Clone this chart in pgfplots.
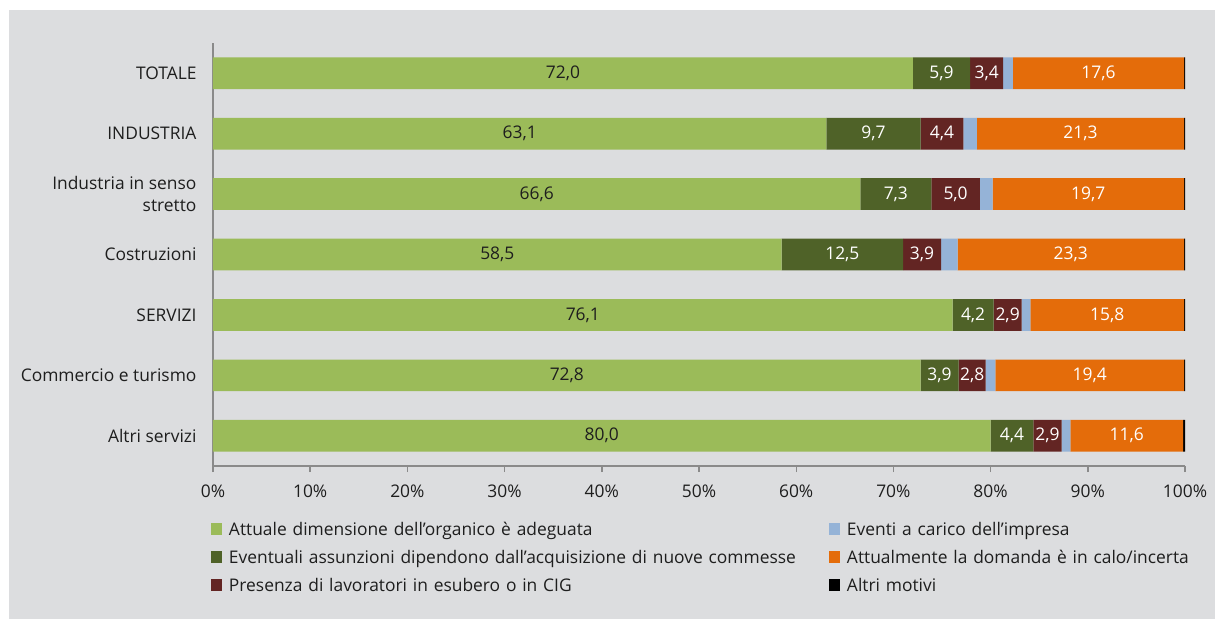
\documentclass[border=0pt]{standalone}
\usepackage{pgfplots}
\pgfplotsset{compat=1.18}
\usepackage{pgfplotstable}
\usepackage{fontspec}
\setmainfont{Open Sans}
\definecolor{bggray}{HTML}{DCDDDF}
\definecolor{axgray}{HTML}{8A8A8A}
\definecolor{c1}{HTML}{9BBB59}
\definecolor{c2}{HTML}{4F6228}
\definecolor{c3}{HTML}{632523}
\definecolor{c4}{HTML}{95B3D7}
\definecolor{c5}{HTML}{E46C0A}
\definecolor{c6}{HTML}{000000}
\definecolor{txt}{HTML}{1E1E1E}

% pos: 1 = TOTALE ... 7 = Altri servizi
\pgfplotstableread{
pos  adeg  comm  esub  even  calo  altri
1    72.0  5.9   3.4   1.0   17.6  0.1
2    63.1  9.7   4.4   1.4   21.3  0.1
3    66.6  7.3   5.0   1.3   19.7  0.1
4    58.5  12.5  3.9   1.7   23.3  0.1
5    76.1  4.2   2.9   0.9   15.8  0.1
6    72.8  3.9   2.8   1.0   19.4  0.1
7    80.0  4.4   2.9   0.9   11.6  0.2
}\datatab

\newcommand{\bigf}{\fontsize{17.4pt}{22.5pt}\selectfont}

\begin{document}
\begin{tikzpicture}
\useasboundingbox (-213pt,-153pt) rectangle (1002pt,466pt);
\fill[white] (-213pt,-153pt) rectangle (1002pt,466pt);
\fill[bggray] (-204pt,-153pt) rectangle (1002pt,456pt);
\begin{axis}[
    at={(0pt,0pt)}, anchor=south west,
    scale only axis,
    width=972pt, height=423pt,
    xbar stacked,
    bar width=31.7pt,
    xmin=0, xmax=100,
    ymin=0.5, ymax=7.5,
    y dir=reverse,
    axis x line*=bottom,
    axis y line*=left,
    axis line style={axgray, line width=1.4pt, -},
    xtick={0,10,...,100},
    xticklabels={0\%,10\%,20\%,30\%,40\%,50\%,60\%,70\%,80\%,90\%,100\%},
    xtick style={axgray, line width=1.4pt},
    tick align=outside,
    major tick length=6pt,
    ytick={1,...,7},
    yticklabels={TOTALE,INDUSTRIA,{Industria in senso\\stretto},Costruzioni,SERVIZI,{Commercio e turismo},Altri servizi},
    ytick style={draw=none},
    yticklabel style={font=\bigf, text=txt, align=right, xshift=-7pt},
    xticklabel style={font=\bigf, text=txt, yshift=-9pt},
    /pgf/number format/assume math mode=true,
    point meta=rawx,
    nodes near coords={\pgfmathprintnumber[fixed, fixed zerofill, precision=1, use comma]{\pgfplotspointmeta}},
    every node near coord/.append style={font=\bigf, anchor=center},
    legend columns=2,
    legend cell align=left,
    legend image code/.code={\fill[#1, draw=none] (0pt,-6pt) rectangle (11.5pt,6pt);},
    legend style={draw=none, fill=none, inner sep=0pt, outer sep=0pt,
        at={(axis description cs:0,0)}, anchor=north west, xshift=-2pt, yshift=-57pt,
        column sep=6.5pt, row sep=16pt,
        nodes={font=\bigf, text=txt, inner sep=0pt, text height=12pt, text depth=0pt, text width=593.5pt}},
]
\addplot[fill=c1, draw=none, forget plot, nodes near coords style={text=txt}] table[x=adeg, y=pos] {\datatab};
\addplot[fill=c2, draw=none, forget plot, nodes near coords style={text=white}] table[x=comm, y=pos] {\datatab};
\addplot[fill=c3, draw=none, forget plot, nodes near coords style={text=white}] table[x=esub, y=pos] {\datatab};
\addplot[fill=c4, draw=none, forget plot, nodes near coords={}] table[x=even, y=pos] {\datatab};
\addplot[fill=c5, draw=none, forget plot, nodes near coords style={text=white}] table[x=calo, y=pos] {\datatab};
\addplot[fill=c6, draw=none, forget plot, nodes near coords={}] table[x=altri, y=pos] {\datatab};

\addlegendimage{fill=c1}
\addlegendentry{Attuale dimensione dell’organico è adeguata}
\addlegendimage{fill=c4}
\addlegendentry{Eventi a carico dell’impresa}
\addlegendimage{fill=c2}
\addlegendentry{Eventuali assunzioni dipendono dall’acquisizione di nuove commesse}
\addlegendimage{fill=c5}
\addlegendentry{Attualmente la domanda è in calo/incerta}
\addlegendimage{fill=c3}
\addlegendentry{Presenza di lavoratori in esubero o in CIG}
\addlegendimage{fill=c6}
\addlegendentry{Altri motivi}
\end{axis}
\end{tikzpicture}
\end{document}
